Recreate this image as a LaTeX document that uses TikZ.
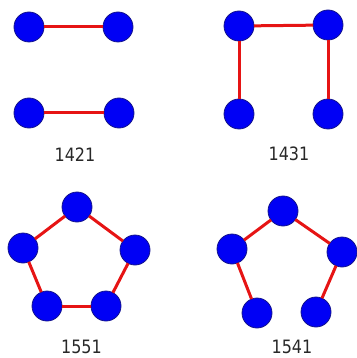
\documentclass[tikz,border=0pt]{standalone}
\usepackage{fontspec}
\setmainfont{DejaVu Sans}
\definecolor{nodeblue}{RGB}{0,0,245}
\definecolor{rimblue}{RGB}{20,20,140}
\definecolor{edgered}{RGB}{230,20,20}
\definecolor{labelgray}{RGB}{40,40,40}
\tikzset{
  vtx/.style={circle,fill=nodeblue,draw=rimblue,line width=0.8pt,minimum size=30pt,inner sep=0pt,outer sep=0pt},
  lnk/.style={edgered,line width=3pt},
  lbl/.style={text=labelgray,font=\fontsize{16}{17}\selectfont,inner sep=0pt}
}
\newcommand{\tallnum}[1]{\scalebox{1}[1.15]{#1}}
\begin{document}
\begin{tikzpicture}[x=1pt,y=-1pt]
\useasboundingbox (0,0) rectangle (356,358);
% panel 1421
\node[vtx] (a1) at (29,27) {};
\node[vtx] (a2) at (118,27) {};
\node[vtx] (a3) at (29,113) {};
\node[vtx] (a4) at (119,113) {};
\draw[lnk] (a1) -- (a2);
\draw[lnk] (a3) -- (a4);
\node[lbl] (la) at (75,155) {\tallnum{1421}};
% panel 1431
\node[vtx] (b1) at (239,26) {};
\node[vtx] (b2) at (328,25) {};
\node[vtx] (b3) at (239,114) {};
\node[vtx] (b4) at (328,114) {};
\draw[lnk] (b1) -- (b2);
\draw[lnk] (b1) -- (b3);
\draw[lnk] (b2) -- (b4);
\node[lbl] (lb) at (289,154) {\tallnum{1431}};
% panel 1551
\node[vtx] (c1) at (77,207) {};
\node[vtx] (c2) at (23,248) {};
\node[vtx] (c3) at (135,250) {};
\node[vtx] (c4) at (47,306) {};
\node[vtx] (c5) at (106,306) {};
\draw[lnk] (c1) -- (c2);
\draw[lnk] (c1) -- (c3);
\draw[lnk] (c2) -- (c4);
\draw[lnk] (c3) -- (c5);
\draw[lnk] (c4) -- (c5);
\node[lbl] (lc) at (81.5,346.5) {\tallnum{1551}};
% panel 1541
\node[vtx] (d1) at (283,211) {};
\node[vtx] (d2) at (232,249) {};
\node[vtx] (d3) at (342,252) {};
\node[vtx] (d4) at (257,313) {};
\node[vtx] (d5) at (316,312) {};
\draw[lnk] (d1) -- (d2);
\draw[lnk] (d1) -- (d3);
\draw[lnk] (d2) -- (d4);
\draw[lnk] (d3) -- (d5);
\node[lbl] (ld) at (292,346.5) {\tallnum{1541}};
\end{tikzpicture}
\end{document}
